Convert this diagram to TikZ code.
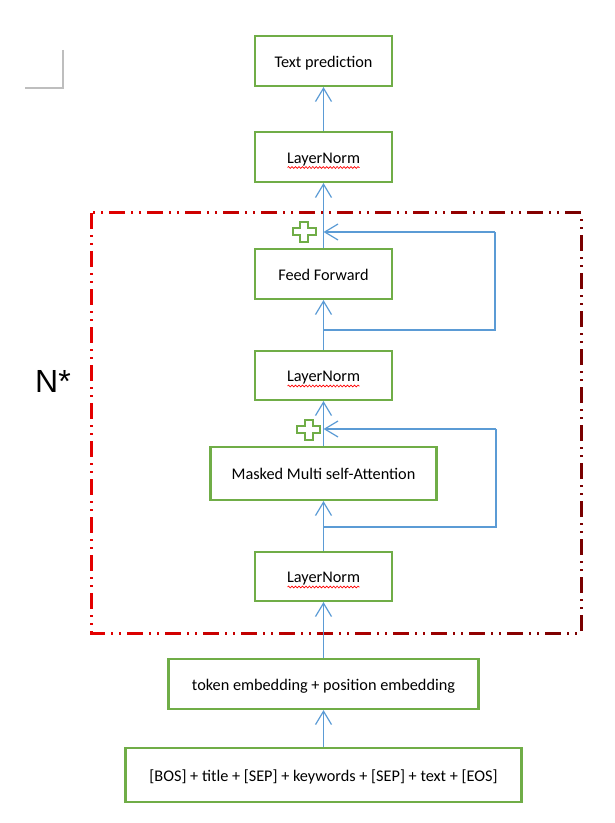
\documentclass[tikz,border=0pt]{standalone}
\usepackage{fontspec}
\setmainfont{Carlito}
\newfontfamily\nfont{Liberation Sans}
\usetikzlibrary{arrows.meta,decorations.pathmorphing}
\definecolor{boxgreen}{HTML}{70AD47}
\definecolor{flowblue}{HTML}{5B9BD5}
\definecolor{frameredL}{RGB}{228,0,0}
\definecolor{frameredR}{RGB}{122,0,0}
\definecolor{markgray}{RGB}{190,190,190}
\tikzset{
  blk/.style={draw=boxgreen, line width=1.6pt, fill=white, minimum height=#1*0.75pt,
    font=\fontsize{12.2}{14}\selectfont, text height=11pt, text depth=1.6pt, inner sep=0pt},
  blk/.default=50,
  flow/.style={draw=flowblue, line width=0.9pt, -{Straight Barb[length=10pt,width=12pt]}},
  link/.style={draw=flowblue, line width=0.9pt},
  frame/.style={line width=2.25pt, dash pattern=on 12pt off 4.5pt on 1.5pt off 4.5pt on 1.5pt off 4.5pt},
  plusmark/.style={draw=boxgreen, line width=1.5pt},
  spell/.style={draw=red, line width=0.5pt, decorate, decoration={snake, amplitude=0.7pt, segment length=2.6pt}}
}
\begin{document}
\begin{tikzpicture}[x=0.75pt, y=-0.75pt]
\useasboundingbox (0,0) rectangle (614,823);

% corner mark
\draw[markgray, line width=0.8pt] (63,50) -- (63,88) -- (25,88);

% red dash-dot-dot frame with horizontal colour gradient
\foreach \i in {0,...,24} {
  \pgfmathsetmacro\xa{80+20.4*\i}
  \pgfmathsetmacro\xb{80+20.4*(\i+1)+0.6}
  \pgfmathsetmacro\p{100*\i/24}
  \begin{scope}
    \clip (\xa,190) rectangle (\xb,650);
    \draw[frame, color=frameredR!\p!frameredL] (91,213) rectangle (581,633);
  \end{scope}
}

% N*
\node[font=\nfont\fontsize{24}{28}\selectfont, inner sep=0pt] (nstar) at (53,381.5) {N*};

% boxes
\node[blk, minimum width=137*0.75pt] (pred) at (323.5,61) {Text prediction};
\node[blk, minimum width=137*0.75pt] (ln3) at (323.5,157) {LayerNorm};
\node[blk, minimum width=137*0.75pt] (ff) at (323.5,274) {Feed Forward};
\node[blk=49, minimum width=137*0.75pt] (ln2) at (323.5,375.5) {LayerNorm};
\node[blk=53, minimum width=226*0.75pt] (mma) at (323.5,473.5) {Masked Multi self-Attention};
\node[blk=49, minimum width=137*0.75pt] (ln1) at (323.5,576.5) {LayerNorm};
\node[blk, minimum width=310*0.75pt] (tok) at (323.5,684) {token embedding + position embedding};
\node[blk=54, minimum width=396*0.75pt] (bos) at (323.5,775) {[BOS] + title + [SEP] + keywords + [SEP] + text + [EOS]};

% spell-check underlines
\foreach \n in {ln3,ln2,ln1} {
  \draw[spell] (\n.center) ++(-36,10.5) -- ++(72,0);
}

% main flow
\draw[flow] (bos) -- (tok);
\draw[flow] (tok) -- (ln1);
\draw[flow] (ln1) -- (mma);
\draw[flow] (mma) -- (ln2);
\draw[flow] (ln2) -- (ff);
\draw[flow] (ff) -- (ln3);
\draw[flow] (ln3) -- (pred);

% residual connections
\coordinate (s2) at (323.5,527);
\coordinate (c2) at (496,429);
\coordinate (j2) at (323.5,429);
\draw[link] (s2) -| (c2);
\draw[flow] (c2) -- (j2);

\coordinate (s1) at (323.5,330);
\coordinate (c1) at (495,232);
\coordinate (j1) at (323.5,232);
\draw[link] (s1) -| (c1);
\draw[flow] (c1) -- (j1);

% plus marks
\foreach \cx/\cy in {304/232, 308.5/429.5} {
  \draw[plusmark] (\cx,\cy) ++(-4,-10) -- ++(8,0) -- ++(0,6.5) -- ++(7.5,0) -- ++(0,7) -- ++(-7.5,0)
     -- ++(0,6.5) -- ++(-8,0) -- ++(0,-6.5) -- ++(-7.5,0) -- ++(0,-7) -- ++(7.5,0) -- cycle;
}
\end{tikzpicture}
\end{document}
